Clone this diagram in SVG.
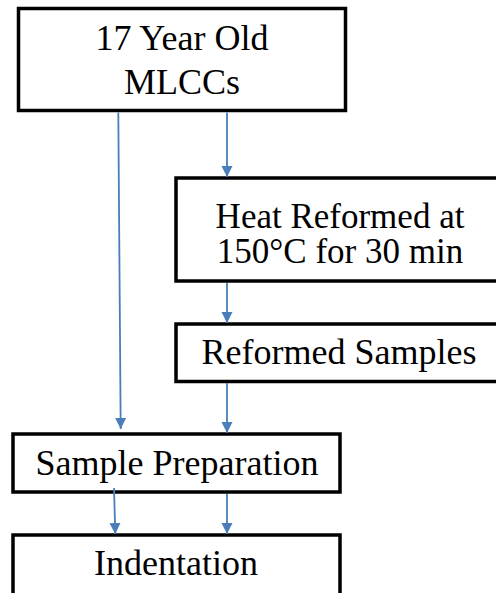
<svg xmlns="http://www.w3.org/2000/svg" width="496" height="593" viewBox="0 0 496 593">
<style>
.box{fill:#fff;stroke:#000;stroke-width:3.5}
.t{font-family:"Liberation Serif","Times New Roman",serif;font-size:36px;fill:#000;text-anchor:middle}
.c{stroke:#4a7ebb;stroke-width:1.8;fill:none;marker-end:url(#ah)}
</style>
<defs>
<marker id="ah" markerUnits="userSpaceOnUse" markerWidth="12" markerHeight="12" viewBox="0 0 12 12" refX="11" refY="6" orient="auto">
<path d="M0,0.5 L11,6 L0,11.5 Z" fill="#4a7ebb"/>
</marker>
</defs>
<rect width="496" height="593" fill="#fff"/>
<g id="n1"><rect class="box" x="18.5" y="8.5" width="327" height="102"/>
<text class="t" x="182" y="50">17 Year Old</text>
<text class="t" x="182" y="94">MLCCs</text></g>
<g id="n2"><rect class="box" x="176" y="178" width="330" height="103"/>
<text class="t" x="340" y="228" style="font-size:35px">Heat Reformed at</text>
<text class="t" x="340" y="263" style="font-size:35px">150°C for 30 min</text></g>
<g id="n3"><rect class="box" x="176" y="324" width="330" height="57.5"/>
<text class="t" x="339" y="364">Reformed Samples</text></g>
<g id="n4"><rect class="box" x="13" y="434" width="327" height="58"/>
<text class="t" x="177" y="475">Sample Preparation</text></g>
<g id="n5"><rect class="box" x="13" y="535" width="327" height="70"/>
<text class="t" x="176" y="575">Indentation</text></g>
<g id="connectors">
<path class="c" d="M118.3,112.5 L120.7,429"/>
<path class="c" d="M227,112.5 L227,177"/>
<path class="c" d="M227,283 L227,323"/>
<path class="c" d="M227,383 L227,433"/>
<path class="c" d="M114,488 L115.3,534"/>
<path class="c" d="M227,494 L227,534"/>
</g>
</svg>
